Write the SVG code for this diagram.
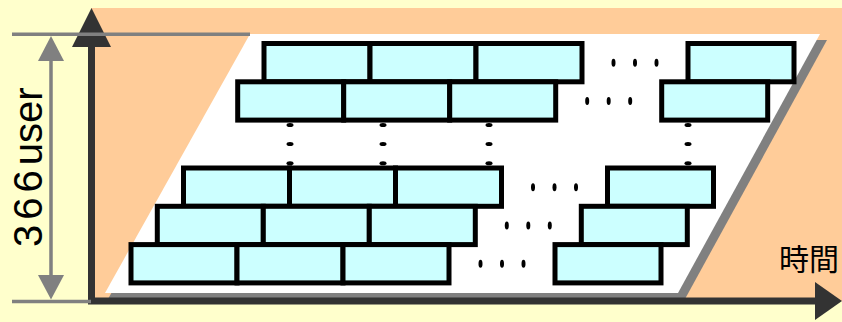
<svg xmlns="http://www.w3.org/2000/svg" width="842" height="322" viewBox="0 0 842 322">
<style>
.b{fill:#CCFFFF;stroke:#000;stroke-width:5}
.d{fill:#000}
.ax{stroke:#333;stroke-width:7;fill:none}
.gl{stroke:#808080;stroke-width:3.5;fill:none}
.txt{font-family:"Liberation Sans",Arial,sans-serif;fill:#000}
</style>
<defs>
<rect id="br" class="b" width="106" height="38.3"/>
<g id="row"><use href="#br" x="0"/><use href="#br" x="106"/><use href="#br" x="212"/><use href="#br" x="424"/></g>
<g id="hd"><ellipse class="d" cx="349.5" cy="19.2" rx="2" ry="4"/><ellipse class="d" cx="371" cy="19.2" rx="2" ry="4"/><ellipse class="d" cx="392.5" cy="19.2" rx="2" ry="4"/></g>
</defs>
<rect width="842" height="322" fill="#FFFFCC"/>
<g id="plane">
<rect x="91" y="8" width="751" height="293" fill="#FFCC99"/>
<polygon points="255,40 827,40 685,299 108,299" fill="#808080"/>
<polygon points="250,34 820,34 678,293 105,293" fill="#FFFFFF"/>
</g>
<g id="vdots">
<ellipse class="d" cx="290" cy="125" rx="3.5" ry="2"/><ellipse class="d" cx="290" cy="144" rx="3.5" ry="2"/><ellipse class="d" cx="290" cy="163.3" rx="3.5" ry="2"/>
<ellipse class="d" cx="383" cy="125" rx="3.5" ry="2"/><ellipse class="d" cx="383" cy="144" rx="3.5" ry="2"/><ellipse class="d" cx="383" cy="163.3" rx="3.5" ry="2"/>
<ellipse class="d" cx="489" cy="125" rx="3.5" ry="2"/><ellipse class="d" cx="489" cy="144" rx="3.5" ry="2"/><ellipse class="d" cx="489" cy="163.3" rx="3.5" ry="2"/>
<ellipse class="d" cx="688" cy="125" rx="3.5" ry="2"/><ellipse class="d" cx="688" cy="144" rx="3.5" ry="2"/><ellipse class="d" cx="688" cy="163.3" rx="3.5" ry="2"/>
</g>
<g id="row1" transform="translate(264,43.5)"><use href="#row"/><use href="#hd"/></g>
<g id="row2" transform="translate(237.7,81.8)"><use href="#row"/><use href="#hd"/></g>
<g id="rowA" transform="translate(183.5,168)"><use href="#row"/><use href="#hd"/></g>
<g id="rowB" transform="translate(157.3,206.3)"><use href="#row"/><use href="#hd"/></g>
<g id="rowC" transform="translate(131,244.6)"><use href="#row"/><use href="#hd"/></g>
<g id="connectors">
<path class="ax" d="M91.5,45 V304.5 M88,301 H817"/>
<polygon points="91.5,8 111,47 72,47" fill="#333"/>
<polygon points="842,301 815,282 815,320" fill="#333"/>
<path class="gl" d="M12,34.2 H250 M12,301.6 H91 M51,50 V290"/>
<polygon points="51,36 64,61 38,61" fill="#808080"/>
<polygon points="51,299.5 64,275 38,275" fill="#808080"/>
</g>
<g id="labels">
<text class="txt" font-size="40" transform="translate(42,247) rotate(-90)"><tspan letter-spacing="5">366</tspan>user</text>
<text x="839" y="270" font-size="30" text-anchor="end" style="font-family:'Noto Sans CJK JP',sans-serif" fill="#000">時間</text>
</g>
</svg>
